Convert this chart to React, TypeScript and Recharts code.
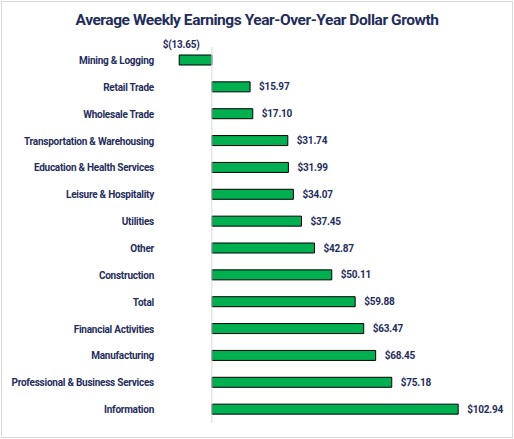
import { BarChart, Bar, XAxis, YAxis, ReferenceLine, LabelList } from 'recharts';

const categories = [
  'Mining & Logging',
  'Retail Trade',
  'Wholesale Trade',
  'Transportation & Warehousing',
  'Education & Health Services',
  'Leisure & Hospitality',
  'Utilities',
  'Other',
  'Construction',
  'Total',
  'Financial Activities',
  'Manufacturing',
  'Professional & Business Services',
  'Information',
];

const growth = [-13.65, 15.97, 17.1, 31.74, 31.99, 34.07, 37.45, 42.87, 50.11, 59.88, 63.47, 68.45, 75.18, 102.94];

const data = categories.map((name, i) => ({ name, value: growth[i] }));

const NAVY = '#1f2d5c';
const FONT = 'Roboto, sans-serif';

const fmt = (v: number) => (v < 0 ? `$(${Math.abs(v).toFixed(2)})` : `$${v.toFixed(2)}`);

function ValueLabel(props: any) {
  const { x, y, width, height, value } = props;
  const cy = y + height / 2;
  const common = { fill: NAVY, fontSize: 10, fontWeight: 700, fontFamily: FONT, letterSpacing: -0.2, dominantBaseline: 'central' as const };
  if (value < 0) {
    // Excel puts the negative label above the left end of the bar
    return (
      <text x={x + width + 2} y={cy - 16} textAnchor="middle" {...common}>
        {fmt(value)}
      </text>
    );
  }
  return (
    <text x={x + width + 9} y={cy} textAnchor="start" {...common}>
      {fmt(value)}
    </text>
  );
}

function CategoryTick(props: any) {
  const { x, y, payload } = props;
  return (
    <text x={x} y={y} textAnchor="end" dominantBaseline="central" fill={NAVY} fontSize={10} fontWeight={700} fontFamily={FONT} letterSpacing={-0.25}>
      {payload.value}
    </text>
  );
}

export default function App() {
  return (
    <div style={{ position: 'absolute', left: 0, top: 0, width: 514, height: 439, background: '#fff' }}>
      <div style={{ position: 'absolute', left: 1, top: 1, width: 510, height: 435, border: '1px solid #d9d9d9' }} />
      <div
        style={{
          position: 'absolute',
          left: 0,
          top: 11,
          width: 514,
          textAlign: 'center',
          fontFamily: FONT,
          fontWeight: 700,
          fontSize: 15.5,
          letterSpacing: -0.45,
          color: NAVY,
        }}
      >
        Average Weekly Earnings Year-Over-Year Dollar Growth
      </div>
      <div style={{ position: 'absolute', left: 0, top: 0 }}>
        <BarChart
          width={514}
          height={439}
          data={data}
          layout="vertical"
          margin={{ top: 47, right: 15, bottom: 16, left: 0 }}
          barSize={10}
        >
          <XAxis type="number" domain={[-20, 120]} hide />
          <YAxis
            type="category"
            dataKey="name"
            width={164}
            axisLine={false}
            tickLine={false}
            tickMargin={4}
            tick={<CategoryTick />}
          />
          <ReferenceLine x={0} stroke="#d9d9d9" strokeWidth={1} />
          <Bar dataKey="value" fill="#00b050" stroke="#000" strokeWidth={1} isAnimationActive={false}>
            <LabelList dataKey="value" content={ValueLabel} />
          </Bar>
        </BarChart>
      </div>
    </div>
  );
}
